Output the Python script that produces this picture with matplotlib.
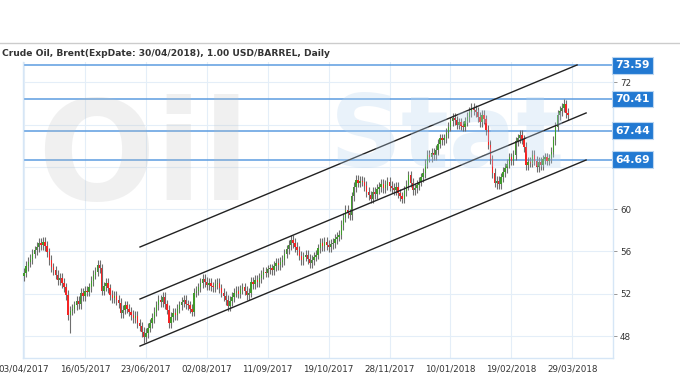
import matplotlib.pyplot as plt
import numpy as np

# daily closes, 03/04/2017 .. ~29/03/2018
closes = [
    54.0, 54.6, 55.0, 55.3, 55.8, 56.1, 56.4, 56.8, 56.6, 56.9,
    56.5, 55.9, 55.2, 54.5, 54.2, 53.8, 53.3, 53.5, 53.0, 52.6,
    51.9, 50.0, 50.4, 50.6, 50.9, 51.3, 51.0, 52.1, 51.8, 52.3,
    52.2, 52.6, 53.2, 53.8, 54.1, 54.7, 54.4, 52.3, 52.7, 53.0,
    52.5, 51.9, 51.6, 51.8, 51.4, 51.1, 50.2, 50.5, 50.9, 50.6,
    50.3, 50.0, 49.7, 49.9, 49.2, 48.9, 48.4, 47.9, 48.3, 48.8,
    49.2, 49.7, 50.3, 50.9, 51.4, 51.2, 51.7, 51.0, 50.5, 49.2,
    49.8, 50.2, 50.0, 50.6, 50.9, 51.2, 51.4, 51.0, 50.9, 50.6,
    50.3, 52.1, 52.3, 52.6, 53.0, 53.4, 53.1, 52.8, 53.0, 52.7,
    52.6, 52.9, 53.0, 52.5, 52.1, 51.8, 51.4, 50.8, 51.3, 51.7,
    52.1, 52.3, 52.0, 52.4, 52.6, 52.3, 51.9, 52.1, 53.1, 52.9,
    53.3, 53.1, 53.5, 53.8, 54.1, 54.0, 54.3, 54.4, 54.2, 54.6,
    54.9, 54.7, 55.0, 55.2, 55.8, 56.2, 56.6, 57.1, 56.8, 56.4,
    56.1, 55.6, 55.2, 55.5, 55.7, 55.3, 54.9, 55.2, 55.5, 55.7,
    56.3, 56.8, 56.5, 56.9, 56.6, 56.4, 56.7, 56.8, 57.2, 57.4,
    57.6, 58.5, 59.2, 59.9, 59.6, 59.4, 61.2, 62.1, 62.8, 62.5,
    62.7, 62.6, 62.2, 61.6, 61.3, 61.0, 61.6, 61.4, 61.9, 62.1,
    62.4, 62.0, 62.3, 62.6, 62.2, 62.0, 61.8, 62.1, 61.5, 61.2,
    61.0, 61.7, 62.3, 63.2, 62.5, 61.8, 62.0, 62.3, 62.6, 63.0,
    63.4, 64.3, 65.1, 64.9, 65.3, 65.1, 65.6, 66.2, 66.7, 66.5,
    66.7, 67.2, 67.8, 68.3, 68.6, 68.4, 68.0, 68.2, 67.9, 67.8,
    68.3, 68.7, 69.2, 69.6, 69.4, 69.2, 68.7, 68.2, 68.9, 68.5,
    67.5, 66.1, 64.7, 63.4, 62.5, 62.7, 62.4, 63.0, 63.5, 63.9,
    64.3, 64.9, 64.6, 65.1, 66.4, 66.7, 67.0, 66.6, 65.9, 64.2,
    64.5, 64.4, 65.1, 64.6, 64.0, 64.5, 64.2, 64.7, 64.9, 64.6,
    64.8, 65.4, 66.5, 67.8, 68.9, 69.3, 69.6, 69.9, 69.1, 68.9,
]
# a few long wicks
extra_lows = {22: 48.3, 57: 47.3, 69: 48.8, 225: 61.9}
extra_highs = {257: 70.4, 213: 70.0}

date_labels = ["03/04/2017", "16/05/2017", "23/06/2017", "02/08/2017", "11/09/2017",
               "19/10/2017", "28/11/2017", "10/01/2018", "19/02/2018", "29/03/2018"]
date_pos = [0, 29, 58, 87, 116, 145, 174, 203, 232, 261]

price_ticks = [48, 52, 56, 60, 64, 68, 72]
price_tick_labels = ["48", "52", "56", "60", "", "", "72"]  # 64 / 68 sit under the level boxes

levels = [73.59, 70.41, 67.44, 64.69]

# channel lines: (x0, y0, x1, y1) in bar index / price
channels = [
    (55.2, 56.42, 263.3, 73.64),
    (55.2, 51.50, 267.6, 69.10),
    (55.2, 47.05, 267.6, 64.65),
]

c = np.array(closes)
o = np.r_[c[0] - 0.3, c[:-1]]
x = np.arange(len(c))
hi = np.maximum(o, c) + 0.45
lo = np.minimum(o, c) - 0.45
for i, v in extra_lows.items():
    lo[i] = v
for i, v in extra_highs.items():
    hi[i] = v

fig = plt.figure(figsize=(6.8, 3.8), dpi=100)
ax = fig.add_axes([23 / 680, 22 / 380, 590 / 680, 296 / 380])

# faint watermark
fig.text(0.055, 0.475, "Oil", fontsize=100, fontweight="bold", color="#bdbdbd",
         alpha=0.22, zorder=0)
fig.text(0.485, 0.56, "Stat", fontsize=72, fontweight="bold", color="#b9d5ef",
         alpha=0.3, zorder=0)

up = c >= o
ax.vlines(x, lo, hi, color="#6e6e6e", linewidth=0.8, zorder=3)
ax.bar(x[up], np.maximum(c[up] - o[up], 0.08), bottom=o[up], width=0.65,
       color="#3f9b2a", zorder=4)
ax.bar(x[~up], np.minimum(c[~up] - o[~up], -0.08), bottom=o[~up], width=0.65,
       color="#f42424", zorder=4)

for x0, y0, x1, y1 in channels:
    ax.plot([x0, x1], [y0, y1], color="#222222", linewidth=1.0, zorder=5)

for lv in levels:
    ax.axhline(lv, color="#5d9de0", linewidth=1.1, zorder=2)
    ax.text(1.004, lv, f"{lv:.2f}", transform=ax.get_yaxis_transform(),
            ha="left", va="center", color="white", fontsize=7.8, fontweight="bold",
            clip_on=False, zorder=6,
            bbox=dict(boxstyle="square,pad=0.3", fc="#2279d2", ec="#bcd6f0", lw=0.8))

ax.set_xlim(-0.5, 280.4)
ax.set_ylim(45.92, 73.92)
ax.set_xticks(date_pos)
ax.set_xticklabels(date_labels)
ax.set_yticks(price_ticks)
ax.set_yticklabels(price_tick_labels)
ax.yaxis.tick_right()
ax.tick_params(axis="x", length=0, labelsize=6.3, colors="#333333", pad=5)
ax.tick_params(axis="y", length=3, width=0.6, color="#888888", labelsize=6.3,
               labelcolor="#333333", pad=2)
ax.grid(True, color="#e4eef8", linewidth=0.8, zorder=0)
ax.set_axisbelow(True)
for side in ["left", "bottom", "right"]:
    ax.spines[side].set_color("#d6e6f6")
    ax.spines[side].set_linewidth(1.0)
ax.spines["top"].set_visible(False)
ax.patch.set_alpha(0)

fig.add_artist(plt.Line2D([0, 1], [1 - 43 / 380, 1 - 43 / 380], color="#cccccc",
                          linewidth=1.0, transform=fig.transFigure))
fig.text(2 / 680, 1 - 53 / 380, "Crude Oil, Brent(ExpDate: 30/04/2018), 1.00 USD/BARREL, Daily",
         fontsize=6.6, fontweight="bold", color="#333333", va="center", ha="left")

fig.savefig("out.png", dpi=100)
